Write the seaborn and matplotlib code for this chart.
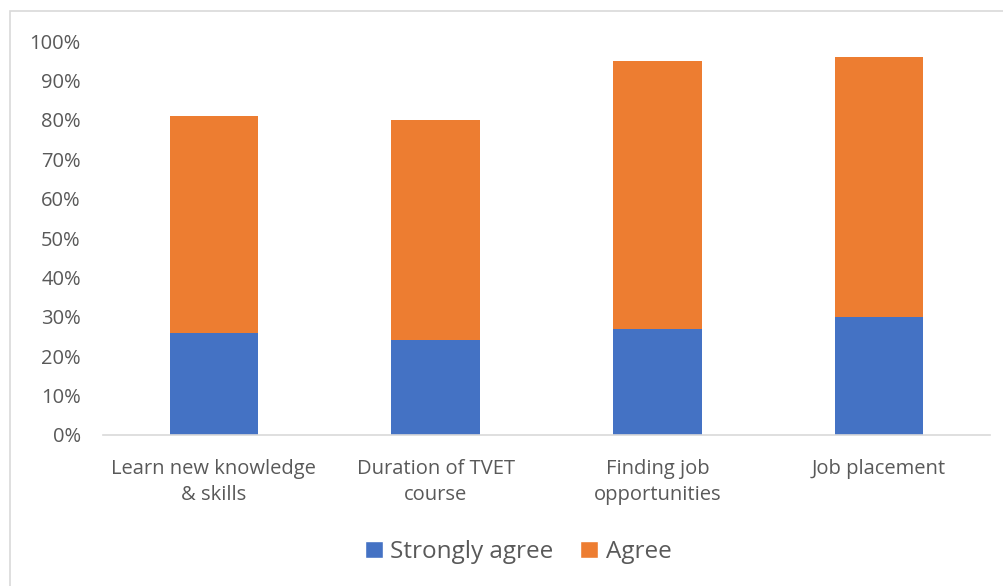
import matplotlib
matplotlib.use("Agg")
import matplotlib.pyplot as plt
from matplotlib.patches import Patch, Rectangle
import seaborn as sns
import pandas as pd

categories = ["Learn new knowledge\n& skills", "Duration of TVET\ncourse",
              "Finding job\nopportunities", "Job placement"]
strongly_agree = [26, 24, 27, 30]
agree = [55, 56, 68, 66]
y_ticks = [0, 10, 20, 30, 40, 50, 60, 70, 80, 90, 100]

BLUE = "#4472C4"
ORANGE = "#ED7D31"
TEXT = "#595959"
AXIS = "#D9D9D9"

sns.set_theme(style="white")
plt.rcParams["font.family"] = ["Open Sans", "DejaVu Sans"]

df = pd.DataFrame({
    "category": categories,
    "Strongly agree": strongly_agree,
    "Agree": agree,
})
df["total"] = df["Strongly agree"] + df["Agree"]

fig = plt.figure(figsize=(10.04, 5.86), dpi=100)
ax = fig.add_axes([0.1026, 0.2577, 0.8834, 0.6723])

# stacked bars: full stack in orange, lower segment in blue
sns.barplot(data=df, x="category", y="total", color=ORANGE, width=0.4,
            saturation=1, ax=ax, linewidth=0)
sns.barplot(data=df, x="category", y="Strongly agree", color=BLUE, width=0.4,
            saturation=1, ax=ax, linewidth=0)

ax.set_xlim(-0.5, len(categories) - 0.5)
ax.set_ylim(0, 100)
ax.set_yticks(y_ticks)
ax.set_yticklabels([f"{v}%" for v in y_ticks])
ax.set_xlabel("")
ax.set_ylabel("")
ax.tick_params(axis="both", length=0, labelsize=14.5, colors=TEXT)
ax.tick_params(axis="y", pad=16)
ax.tick_params(axis="x", pad=17)
for lbl in ax.get_xticklabels():
    lbl.set_linespacing(1.4)
for name, sp in ax.spines.items():
    sp.set_visible(name == "bottom")
ax.spines["bottom"].set_color(AXIS)
ax.spines["bottom"].set_linewidth(1.2)

handles = [Patch(facecolor=BLUE, label="Strongly agree"),
           Patch(facecolor=ORANGE, label="Agree")]
fig.legend(handles=handles, loc="center", bbox_to_anchor=(0.516, 0.058), ncol=2,
           frameon=False, fontsize=17.5, labelcolor=TEXT, handlelength=0.75,
           handleheight=0.75, handletextpad=0.3, columnspacing=1.1)

# outer chart border
fig.add_artist(Rectangle((10 / 1004, -0.01), 1.0, 1 - 11 / 586 + 0.01,
                         transform=fig.transFigure, fill=False,
                         edgecolor=AXIS, linewidth=1.2))

fig.savefig("out.png", dpi=100, facecolor="white")
